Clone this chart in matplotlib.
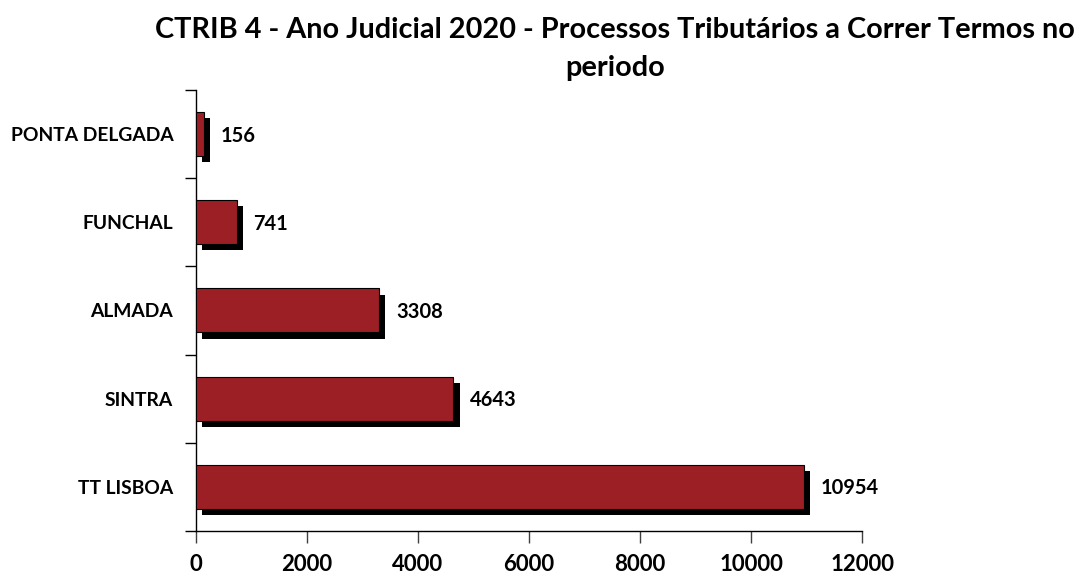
import matplotlib
matplotlib.use("Agg")
import matplotlib.pyplot as plt
import matplotlib.patheffects as pe

categories = ["TT LISBOA", "SINTRA", "ALMADA", "FUNCHAL", "PONTA DELGADA"]
values = [10954, 4643, 3308, 741, 156]
xticks = [0, 2000, 4000, 6000, 8000, 10000, 12000]
title1 = "CTRIB 4 - Ano Judicial 2020 - Processos Tributários a Correr Termos no"
title2 = "periodo"

FONT = "Lato"
BAR = "#9B1F24"

fig = plt.figure(figsize=(10.81, 5.74), dpi=100)
ax = fig.add_axes([195.5 / 1081, 1 - 530.7 / 574, (862.3 - 195.5) / 1081, (530.7 - 90.2) / 574])

ypos = list(range(len(categories)))
shadow = pe.SimplePatchShadow(offset=(4.4, -4.4), shadow_rgbFace="black", alpha=1.0)
bars = ax.barh(ypos, values, height=0.5, color=BAR, edgecolor="black", linewidth=0.8,
               path_effects=[shadow, pe.Normal()], zorder=3)

for y, v in zip(ypos, values):
    ax.annotate(f"{v}", xy=(v, y), xytext=(12, -1), textcoords="offset points",
                ha="left", va="center", fontsize=14.5, fontweight="bold",
                family=FONT, color="black")

ax.set_xlim(0, 12000)
ax.set_ylim(-0.5, len(categories) - 0.5)
ax.set_xticks(xticks)
ax.set_xticklabels([str(t) for t in xticks], fontsize=16, fontweight="bold", family=FONT)
ax.tick_params(axis="x", direction="out", length=8.5, width=1, pad=8.5, color="#404040")

ax.set_yticks([i - 0.5 for i in range(len(categories) + 1)])
ax.set_yticklabels([])
ax.tick_params(axis="y", which="major", direction="out", length=8, width=1)
ax.set_yticks(ypos, minor=True)
ax.set_yticklabels(categories, minor=True, fontsize=13.9, fontweight="bold", family=FONT)
ax.tick_params(axis="y", which="minor", length=0, pad=16)

for s in ["top", "right"]:
    ax.spines[s].set_visible(False)
for s in ["left", "bottom"]:
    ax.spines[s].set_linewidth(1)
    ax.spines[s].set_color("black")

fig.text(615 / 1081, 1 - 38.3 / 574, title1, ha="center", va="baseline",
         fontsize=20.8, fontweight="bold", family=FONT)
fig.text(615 / 1081, 1 - 76 / 574, title2, ha="center", va="baseline",
         fontsize=20.8, fontweight="bold", family=FONT)

fig.savefig("out.png", dpi=100, facecolor="white")
